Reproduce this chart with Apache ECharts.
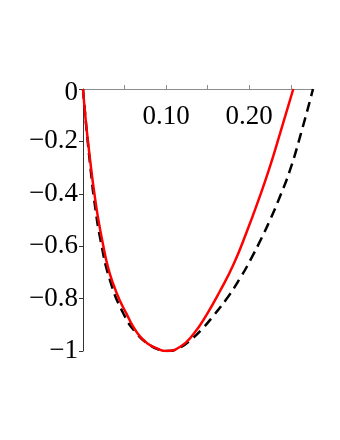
<!DOCTYPE html>
<html>
<head>
<meta charset="utf-8">
<script src="https://cdn.jsdelivr.net/npm/echarts@6/dist/echarts.min.js"></script>
<style>
  html, body { margin: 0; padding: 0; background: #fff; }
  #chart { width: 340px; height: 440px; }
</style>
</head>
<body>
<div id="chart"></div>
<script>
// red solid curve
var redX = [0, 0.003, 0.006, 0.010, 0.0133, 0.018, 0.0245, 0.030, 0.0365, 0.044, 0.0527, 0.060, 0.0687, 0.078, 0.0888, 0.100,
            0.117, 0.133, 0.149, 0.165, 0.181, 0.197, 0.211, 0.224, 0.237, 0.253];
var redY = [0, -0.11, -0.20, -0.31, -0.39, -0.49, -0.60, -0.68, -0.745, -0.805, -0.86, -0.905, -0.945, -0.972, -0.99, -1.0,
            -0.984, -0.935, -0.86, -0.77, -0.67, -0.545, -0.425, -0.305, -0.17, 0];

// black dashed curve
var dashX = [0, 0.003, 0.006, 0.010, 0.0133, 0.0213, 0.0325, 0.0486, 0.0647, 0.0807, 0.092, 0.102,
             0.115, 0.129, 0.145, 0.157, 0.173, 0.189, 0.201, 0.215, 0.225, 0.237, 0.249, 0.2635, 0.2767];
var dashY = [0, -0.11, -0.21, -0.33, -0.42, -0.58, -0.73, -0.857, -0.934, -0.978, -0.995, -1.0,
             -0.99, -0.959, -0.91, -0.865, -0.80, -0.722, -0.655, -0.568, -0.50, -0.41, -0.31, -0.155, 0];

var xLabels = [0.1, 0.2];
var xMax = 0.2767;

function pairs(xs, ys) {
    var out = [];
    for (var i = 0; i < xs.length; i++) out.push([xs[i], ys[i]]);
    return out;
}

var font = '"Liberation Serif", "DejaVu Serif", serif';

var option = {
    animation: false,
    grid: { left: 83, right: 27, top: 89, bottom: 89 },
    xAxis: {
        type: 'value',
        position: 'top',
        min: 0,
        max: xMax,
        interval: 0.05,
        axisLine: { onZero: false, lineStyle: { color: '#8c8c8c', width: 1 } },
        axisTick: { show: true, inside: false, length: 4, lineStyle: { color: '#8c8c8c' } },
        axisLabel: {
            inside: true,
            margin: 14,
            color: '#000',
            fontFamily: font,
            fontSize: 27,
            showMinLabel: false,
            showMaxLabel: false,
            formatter: function (v) {
                for (var i = 0; i < xLabels.length; i++) {
                    if (Math.abs(v - xLabels[i]) < 1e-9) return xLabels[i].toFixed(2);
                }
                return '';
            }
        },
        splitLine: { show: false }
    },
    yAxis: {
        type: 'value',
        min: -1,
        max: 0,
        interval: 0.2,
        axisLine: { show: true, onZero: false, lineStyle: { color: '#333', width: 1 } },
        axisTick: { show: true, length: 4, lineStyle: { color: '#333' } },
        axisLabel: {
            margin: 5,
            color: '#000',
            fontFamily: font,
            fontSize: 27,
            formatter: function (v) {
                if (Math.abs(v) < 1e-9) return '{z|0}';
                return '\u2212' + (+Math.abs(v).toFixed(1));
            },
            rich: {
                z: { fontFamily: font, fontSize: 27, color: '#000', padding: [8, 0, 0, 0] }
            }
        },
        splitLine: { show: false }
    },
    series: [
        {
            type: 'line',
            data: pairs(dashX, dashY),
            smooth: 0.5,
            showSymbol: false,
            lineStyle: { color: '#000', width: 2.5, type: [10, 6] }
        },
        {
            type: 'line',
            data: pairs(redX, redY),
            smooth: 0.5,
            showSymbol: false,
            lineStyle: { color: '#ff0000', width: 2.5 }
        }
    ]
};

var myChart = echarts.init(document.getElementById('chart'));
myChart.setOption(option);
</script>
</body>
</html>
